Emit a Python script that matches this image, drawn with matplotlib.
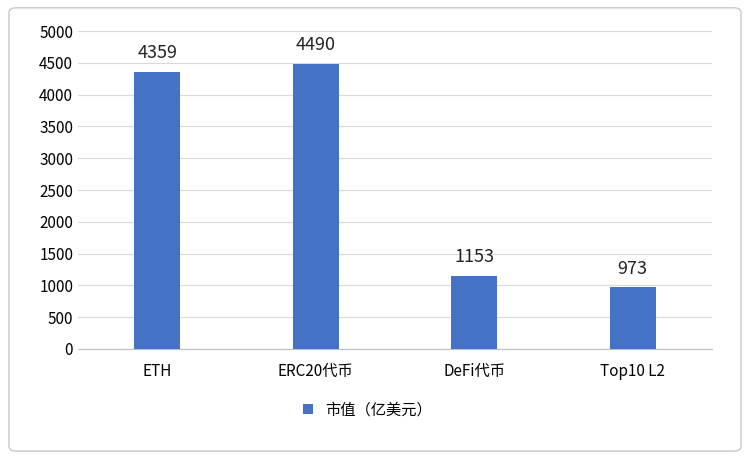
import matplotlib
matplotlib.use("Agg")
import matplotlib.pyplot as plt
from matplotlib.patches import FancyBboxPatch

plt.rcParams['font.family'] = ['Noto Sans CJK SC', 'DejaVu Sans']

categories = ["ETH", "ERC20代币", "DeFi代币", "Top10 L2"]
values = [4359, 4490, 1153, 973]
series_name = "市值（亿美元）"

fig = plt.figure(figsize=(7.5, 4.58), dpi=100)
fig.patches.append(FancyBboxPatch((0.012, 0.015), 0.976, 0.968, boxstyle="round,pad=0,rounding_size=0.01",
                                  transform=fig.transFigure, fill=False, edgecolor="#c8c8c8", lw=1))
ax = fig.add_axes([0.104, 0.238, 0.845, 0.694])
x = range(len(categories))
bars = ax.bar(x, values, width=0.29, color="#4472C4", label=series_name, zorder=3)
for xi, v in zip(x, values):
    ax.text(xi, v + 150, str(v), ha="center", va="bottom", fontsize=13, color="#222222")
ax.set_ylim(0, 5000)
ax.set_xlim(-0.5, 3.5)
ax.set_yticks(range(0, 5001, 500))
ax.set_xticks(list(x))
ax.set_xticklabels(categories, fontsize=11)
ax.tick_params(axis="y", labelsize=11, length=0)
ax.tick_params(axis="x", length=0, pad=10)
ax.grid(axis="y", color="#d9d9d9", lw=0.8, zorder=0)
for s in ["top", "right", "left"]:
    ax.spines[s].set_visible(False)
ax.spines["bottom"].set_color("#bfbfbf")
fig.legend(handles=[bars], labels=[series_name], loc="center", bbox_to_anchor=(0.49, 0.105),
           frameon=False, fontsize=11, handlelength=0.7, handleheight=0.7)
fig.savefig("out.png", dpi=100)
